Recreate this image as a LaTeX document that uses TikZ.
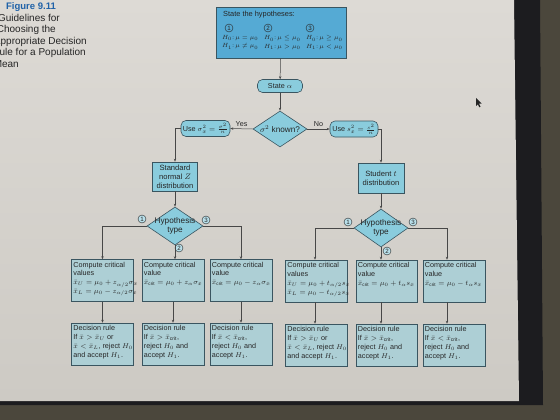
\documentclass[tikz,border=0pt]{standalone}
\usepackage{amsmath}
\usepackage{fontspec}
\setmainfont{Liberation Sans}
\usetikzlibrary{shapes.geometric,arrows.meta}
\definecolor{screenhi}{HTML}{DDDAD5}
\definecolor{screenlo}{HTML}{CDCAC4}
\definecolor{bezel}{HTML}{1C1C1F}
\definecolor{desk}{HTML}{4B473C}
\definecolor{hypblue}{HTML}{55AAD4}
\definecolor{midblue}{HTML}{8ACCDD}
\definecolor{paleblue}{HTML}{ADCFD5}
\definecolor{edge}{HTML}{3A5560}
\definecolor{ink}{HTML}{262626}
\definecolor{figblue}{HTML}{2062A8}
\newcommand{\fml}[1]{{\fontsize{6.6}{8.8}\selectfont$#1$}}
\tikzset{
  every node/.style={text=ink},
  conn/.style={draw=ink!85, line width=0.5pt},
  arr/.style={conn, -{Stealth[length=3pt,width=2.4pt]}},
  hypbox/.style={draw=edge, fill=hypblue, line width=0.6pt, inner sep=0pt},
  rbox/.style={draw=edge, fill=midblue, line width=0.6pt, rounded corners=5pt, inner sep=1pt,
    font=\fontsize{7.2}{8}\selectfont},
  pbox/.style={draw=edge, fill=midblue, line width=0.6pt, inner sep=1pt, align=center,
    font=\fontsize{7.6}{9}\selectfont},
  dia/.style={draw=edge, fill=midblue, line width=0.6pt, diamond, inner sep=0pt},
  diatxt/.style={align=center, inner sep=0pt, font=\fontsize{8.2}{9}\selectfont},
  cbox/.style={draw=edge, fill=paleblue, line width=0.5pt, inner sep=0pt, minimum height=42pt},
  txt/.style={anchor=north west, align=left, inner sep=0pt, font=\fontsize{7.2}{8.8}\selectfont},
  cnum/.style={circle, draw=ink, fill=midblue!60, line width=0.4pt, inner sep=0.3pt,
    minimum size=8pt, font=\fontsize{6.2}{6.5}\selectfont},
  title/.style={anchor=base east, inner sep=0pt, font=\fontsize{10}{11}\selectfont},
  hcol/.style={anchor=north west, align=left, inner sep=0pt, font=\fontsize{6.4}{8.2}\selectfont},
  lbl/.style={font=\fontsize{7.2}{8}\selectfont, inner sep=1pt}
}
\begin{document}
\begin{tikzpicture}[x=1pt,y=-1pt]
\useasboundingbox (0,0) rectangle (560,420);
\clip (0,0) rectangle (560,420);

% desk, monitor bezel and screen
\fill[desk] (0,0) rectangle (560,420);
\fill[bezel] (0,0) -- (540,0) -- (543,405) -- (0,405) -- cycle;
\shade[top color=screenhi, bottom color=screenlo] (0,0) -- (514,0) -- (519,401) -- (0,401) -- cycle;

% caption block
\node[title, font=\bfseries\fontsize{9.5}{11}\selectfont, text=figblue] (cap1) at (56,10) {Figure 9.11};
\node[title] (cap2) at (60,21.5) {Guidelines for};
\node[title] (cap3) at (56,33) {Choosing the};
\node[title] (cap4) at (87,44.5) {Appropriate Decision};
\node[title] (cap5) at (86,56) {Rule for a Population};
\node[title] (cap6) at (19,67) {Mean};

% hypotheses box
\node[hypbox, minimum width=130pt, minimum height=51pt] (hyp) at (281,32.5) {};
\node[anchor=west, inner sep=0pt, font=\fontsize{7.4}{8}\selectfont] (hyptitle) at (223,15) {State the hypotheses:};
\node[cnum, fill=hypblue] (h1) at (229,28) {1};
\node[cnum, fill=hypblue] (h2) at (268,28) {2};
\node[cnum, fill=hypblue] (h3) at (310,28) {3};
\node[hcol] (hc1) at (222,35.5) {$H_0{:}\,\mu = \mu_0$\\$H_1{:}\,\mu \neq \mu_0$};
\node[hcol] (hc2) at (264,35.5) {$H_0{:}\,\mu \le \mu_0$\\$H_1{:}\,\mu > \mu_0$};
\node[hcol] (hc3) at (306,35.5) {$H_0{:}\,\mu \ge \mu_0$\\$H_1{:}\,\mu < \mu_0$};

% upper flow
\node[rbox, minimum width=45pt, minimum height=13pt] (alpha) at (280,86) {State $\alpha$};
\node[dia, minimum width=54pt, minimum height=36pt] (known) at (280,129) {};
\node[diatxt] (knownt) at (known.center) {$\sigma^2$ known?};
\node[rbox, minimum width=49pt, minimum height=16pt] (usez) at (205.5,128.5) {Use $\sigma^2_{\bar x}=\frac{\sigma^2}{n}$};
\node[rbox, minimum width=48pt, minimum height=16pt] (uset) at (354,129) {Use $s^2_{\bar x}=\frac{s^2}{n}$};
\node[pbox, minimum width=45pt, minimum height=29pt] (zdist) at (175,176.5) {Standard\\normal $Z$\\distribution};
\node[pbox, minimum width=46pt, minimum height=30pt] (tdist) at (381,178) {Student $t$\\distribution};

\draw[arr] (hyp) -- (alpha);
\draw[arr] (alpha) -- (known);
\draw[arr] (known.west) -- (usez.east) node[lbl, midway, above=1pt] (yes) {Yes};
\draw[arr] (known.east) -- (uset.west) node[lbl, midway, above=1pt] (no) {No};
\draw[arr] (usez.west) -| (zdist.north);
\draw[arr] (uset.east) -| (tdist.north);

% hypothesis-type diamonds
\node[dia, minimum width=56pt, minimum height=38pt] (lhyp) at (175,226) {};
\node[diatxt] (lhypt) at (lhyp.center) {Hypothesis\\type};
\node[dia, minimum width=54pt, minimum height=38pt] (rhyp) at (381,228) {};
\node[diatxt] (rhypt) at (rhyp.center) {Hypothesis\\type};
\draw[arr] (zdist) -- (lhyp);
\draw[arr] (tdist) -- (rhyp);
\node[cnum] (l1) at (142,219) {1};
\node[cnum] (l3) at (206,220) {3};
\node[cnum] (l2) at (179,248) {2};
\node[cnum] (r1) at (348,222) {1};
\node[cnum] (r3) at (413,222) {3};
\node[cnum] (r2) at (387,251) {2};

% z-test branch
\node[cbox, minimum width=62pt] (lc1) at (102.5,280.5) {};
\node[cbox, minimum width=62pt] (lc2) at (173,280.5) {};
\node[cbox, minimum width=62pt] (lc3) at (241,280.5) {};
\node[cbox, minimum width=62pt] (ld1) at (102.5,344) {};
\node[cbox, minimum width=62pt] (ld2) at (173,344) {};
\node[cbox, minimum width=62pt] (ld3) at (241,344) {};
\node[txt] (lc1t) at ([shift={(2,2.5)}]lc1.north west)
  {Compute critical\\values\\\fml{\bar x_U = \mu_0 + z_{\alpha/2}\sigma_{\bar x}}\\\fml{\bar x_L = \mu_0 - z_{\alpha/2}\sigma_{\bar x}}};
\node[txt] (lc2t) at ([shift={(2,2.5)}]lc2.north west)
  {Compute critical\\value\\\fml{\bar x_{\mathrm{crit}} = \mu_0 + z_{\alpha}\sigma_{\bar x}}};
\node[txt] (lc3t) at ([shift={(2,2.5)}]lc3.north west)
  {Compute critical\\value\\\fml{\bar x_{\mathrm{crit}} = \mu_0 - z_{\alpha}\sigma_{\bar x}}};
\node[txt] (ld1t) at ([shift={(2,2.5)}]ld1.north west)
  {Decision rule\\If $\bar x > \bar x_U$ or\\$\bar x < \bar x_L$, reject $H_0$\\and accept $H_1$.};
\node[txt] (ld2t) at ([shift={(2,2.5)}]ld2.north west)
  {Decision rule\\If $\bar x > \bar x_{\mathrm{crit}}$,\\reject $H_0$ and\\accept $H_1$.};
\node[txt] (ld3t) at ([shift={(2,2.5)}]ld3.north west)
  {Decision rule\\If $\bar x < \bar x_{\mathrm{crit}}$,\\reject $H_0$ and\\accept $H_1$.};
\draw[arr] (lhyp.west) -| (lc1.north);
\draw[arr] (lhyp.south) -- (lhyp.south |- lc2.north);
\draw[arr] (lhyp.east) -| (lc3.north);
\draw[arr] (lc1) -- (ld1);
\draw[arr] (lc2) -- (ld2);
\draw[arr] (lc3) -- (ld3);

% t-test branch
\node[cbox, minimum width=62pt] (rc1) at (316.5,281) {};
\node[cbox, minimum width=61pt] (rc2) at (386.5,281) {};
\node[cbox, minimum width=62pt] (rc3) at (454,281) {};
\node[cbox, minimum width=62pt] (rd1) at (316.5,345) {};
\node[cbox, minimum width=61pt] (rd2) at (386.5,345) {};
\node[cbox, minimum width=62pt] (rd3) at (454,345) {};
\node[txt] (rc1t) at ([shift={(2,2.5)}]rc1.north west)
  {Compute critical\\values\\\fml{\bar x_U = \mu_0 + t_{\alpha/2}s_{\bar x}}\\\fml{\bar x_L = \mu_0 - t_{\alpha/2}s_{\bar x}}};
\node[txt] (rc2t) at ([shift={(2,2.5)}]rc2.north west)
  {Compute critical\\value\\\fml{\bar x_{\mathrm{crit}} = \mu_0 + t_{\alpha}s_{\bar x}}};
\node[txt] (rc3t) at ([shift={(2,2.5)}]rc3.north west)
  {Compute critical\\value\\\fml{\bar x_{\mathrm{crit}} = \mu_0 - t_{\alpha}s_{\bar x}}};
\node[txt] (rd1t) at ([shift={(2,2.5)}]rd1.north west)
  {Decision rule\\If $\bar x > \bar x_U$ or\\$\bar x < \bar x_L$, reject $H_0$\\and accept $H_1$.};
\node[txt] (rd2t) at ([shift={(2,2.5)}]rd2.north west)
  {Decision rule\\If $\bar x > \bar x_{\mathrm{crit}}$,\\reject $H_0$ and\\accept $H_1$.};
\node[txt] (rd3t) at ([shift={(2,2.5)}]rd3.north west)
  {Decision rule\\If $\bar x < \bar x_{\mathrm{crit}}$,\\reject $H_0$ and\\accept $H_1$.};
\draw[arr] (rhyp.west) -| ([xshift=-1.5pt]rc1.north);
\draw[arr] (rhyp.south) -- (rhyp.south |- rc2.north);
\draw[arr] (rhyp.east) -| ([xshift=-7pt]rc3.north);
\draw[arr] ([xshift=-1.5pt]rc1.south) -- ([xshift=-1.5pt]rd1.north);
\draw[arr] ([xshift=-5.5pt]rc2.south) -- ([xshift=-5.5pt]rd2.north);
\draw[arr] ([xshift=-7pt]rc3.south) -- ([xshift=-7pt]rd3.north);

% mouse pointer
\fill[ink] (476,98) -- (476,106) -- (477.8,104.3) -- (479.3,107.3) -- (480.5,106.7) -- (479,103.7) -- (481.5,103.5) -- cycle;
\end{tikzpicture}
\end{document}
